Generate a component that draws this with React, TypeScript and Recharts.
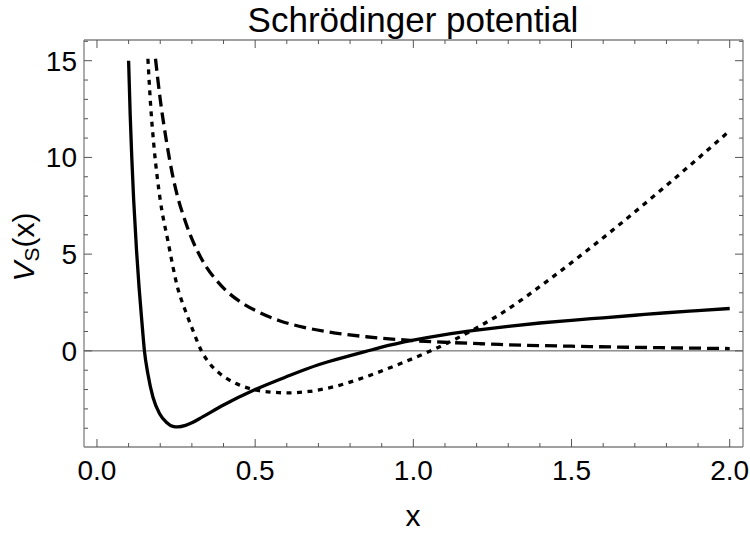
import { LineChart, Line, XAxis, YAxis, ReferenceLine } from "recharts";

// solid curve
const solidX = [0.1, 0.105, 0.11, 0.116, 0.125, 0.133, 0.142, 0.15, 0.161, 0.177, 0.198, 0.22, 0.24, 0.256, 0.28, 0.3, 0.335, 0.4, 0.5, 0.6, 0.7, 0.8, 0.85, 0.9, 1.0, 1.1, 1.2, 1.3, 1.4, 1.5, 1.6, 1.7, 1.8, 1.9, 2.0];
const solidY = [15, 12.2, 10.0, 7.8, 5.2, 3.3, 1.5, 0.0, -1.2, -2.4, -3.25, -3.7, -3.9, -3.93, -3.85, -3.72, -3.4, -2.8, -2.0, -1.33, -0.72, -0.25, -0.03, 0.19, 0.55, 0.84, 1.07, 1.27, 1.44, 1.58, 1.71, 1.84, 1.97, 2.08, 2.19];

// dashed curve
const dashedX = [0.185, 0.2, 0.22, 0.24, 0.256, 0.275, 0.293, 0.32, 0.346, 0.375, 0.409, 0.45, 0.509, 0.577, 0.651, 0.735, 0.851, 1.0, 1.209, 1.272, 1.5, 1.75, 2.0];
const dashedY = [15.1, 13.0, 10.8, 9.0, 7.9, 6.9, 6.07, 5.08, 4.33, 3.7, 3.1, 2.57, 2.02, 1.56, 1.23, 0.97, 0.73, 0.53, 0.37, 0.33, 0.24, 0.17, 0.12];

// dotted curve
const dottedX = [0.161, 0.17, 0.18, 0.2, 0.224, 0.256, 0.28, 0.303, 0.33, 0.356, 0.388, 0.44, 0.504, 0.55, 0.6, 0.67, 0.75, 0.85, 0.95, 1.06, 1.15, 1.21, 1.27, 1.42, 1.55, 1.63, 1.8, 1.9, 2.0];
const dottedY = [15.1, 12.6, 10.6, 7.8, 5.7, 3.2, 2.05, 1.07, 0.0, -0.65, -1.17, -1.69, -2.03, -2.13, -2.17, -2.1, -1.85, -1.34, -0.72, 0.04, 0.75, 1.28, 1.85, 3.57, 5.2, 6.24, 8.55, 9.95, 11.38];

const xMajor = [0, 0.5, 1, 1.5, 2];
const xTicks = [0, 0.1, 0.2, 0.3, 0.4, 0.5, 0.6, 0.7, 0.8, 0.9, 1, 1.1, 1.2, 1.3, 1.4, 1.5, 1.6, 1.7, 1.8, 1.9, 2];
const yMajor = [0, 5, 10, 15];
const yTicks = [-4, -3, -2, -1, 0, 1, 2, 3, 4, 5, 6, 7, 8, 9, 10, 11, 12, 13, 14, 15, 16];

const toPoints = (xs: number[], ys: number[]) => xs.map((x, i) => ({ x, y: ys[i] }));
const solid = toPoints(solidX, solidY);
const dashed = toPoints(dashedX, dashedY);
const dotted = toPoints(dottedX, dottedY);

const FONT = "'Liberation Sans', Arial, sans-serif";
const FRAME = "#808080";
const TICK = "#555";

const isMajor = (list: number[], v: number) => list.some((m) => Math.abs(m - v) < 1e-9);

function BottomTick(props: any) {
  const { x, y, payload } = props;
  const major = isMajor(xMajor, payload.value);
  return (
    <g>
      <line x1={x} x2={x} y1={y} y2={y - (major ? 8 : 4)} stroke={TICK} strokeWidth={1} />
      {major && (
        <text x={x} y={y + 33} textAnchor="middle" fontSize={28} fontFamily={FONT} fill="#000">
          {payload.value.toFixed(1)}
        </text>
      )}
    </g>
  );
}

function TopTick(props: any) {
  const { x, y, payload } = props;
  const major = isMajor(xMajor, payload.value);
  return <line x1={x} x2={x} y1={y} y2={y + (major ? 8 : 4)} stroke={TICK} strokeWidth={1} />;
}

function LeftTick(props: any) {
  const { x, y, payload } = props;
  const major = isMajor(yMajor, payload.value);
  return (
    <g>
      <line x1={x} x2={x + (major ? 8 : 4)} y1={y} y2={y} stroke={TICK} strokeWidth={1} />
      {major && (
        <text x={x - 7} y={y + 10} textAnchor="end" fontSize={28} fontFamily={FONT} fill="#000">
          {payload.value}
        </text>
      )}
    </g>
  );
}

function RightTick(props: any) {
  const { x, y, payload } = props;
  const major = isMajor(yMajor, payload.value);
  return <line x1={x} x2={x - (major ? 8 : 4)} y1={y} y2={y} stroke={TICK} strokeWidth={1} />;
}

export default function App() {
  const xDomain = [-0.041, 2.042];
  const yDomain = [-4.97, 16.07];
  const axisCommon = {
    allowDataOverflow: true,
    interval: 0 as const,
    tickSize: 0,
    tickMargin: 0,
    tickLine: false,
    axisLine: { stroke: FRAME, strokeWidth: 1.3 },
  };
  return (
    <div style={{ position: "absolute", left: 0, top: 0, width: 750, height: 534, background: "#fff" }}>
      <LineChart width={750} height={534} margin={{ top: 39, right: 6, bottom: 86, left: 83 }}>
        <XAxis xAxisId="b" type="number" dataKey="x" domain={xDomain} ticks={xTicks} height={1} {...axisCommon} tick={<BottomTick />} />
        <XAxis xAxisId="t" orientation="top" type="number" dataKey="x" domain={xDomain} ticks={xTicks} height={1} {...axisCommon} tick={<TopTick />} />
        <YAxis yAxisId="l" type="number" domain={yDomain} ticks={yTicks} width={1} {...axisCommon} tick={<LeftTick />} />
        <YAxis yAxisId="r" orientation="right" type="number" domain={yDomain} ticks={yTicks} width={1} {...axisCommon} tick={<RightTick />} />
        <ReferenceLine xAxisId="b" yAxisId="l" y={0} stroke="#555" strokeWidth={1} />
        <Line xAxisId="b" yAxisId="l" data={dashed} dataKey="y" type="monotone" stroke="#000" strokeWidth={3.3}
          strokeDasharray="12 6" dot={false} activeDot={false} isAnimationActive={false} />
        <Line xAxisId="b" yAxisId="l" data={dotted} dataKey="y" type="monotone" stroke="#000" strokeWidth={3.3}
          strokeDasharray="5 5.5" dot={false} activeDot={false} isAnimationActive={false} />
        <Line xAxisId="b" yAxisId="l" data={solid} dataKey="y" type="monotone" stroke="#000" strokeWidth={3.3}
          dot={false} activeDot={false} isAnimationActive={false} />
      </LineChart>
      <svg width={750} height={534} style={{ position: "absolute", left: 0, top: 0, pointerEvents: "none" }}>
        <text x={413} y={32} textAnchor="middle" fontSize={35} fontFamily={FONT} fill="#000">
          Schrödinger potential
        </text>
        <text x={413} y={526} textAnchor="middle" fontSize={30} fontFamily={FONT} fill="#000">
          x
        </text>
        <text transform="translate(34,247) rotate(-90)" textAnchor="middle" fontSize={30} fontFamily={FONT} fill="#000">
          <tspan fontStyle="italic">V</tspan>
          <tspan fontSize={21} dy={5}>S</tspan>
          <tspan dy={-5}>(x)</tspan>
        </text>
      </svg>
    </div>
  );
}
